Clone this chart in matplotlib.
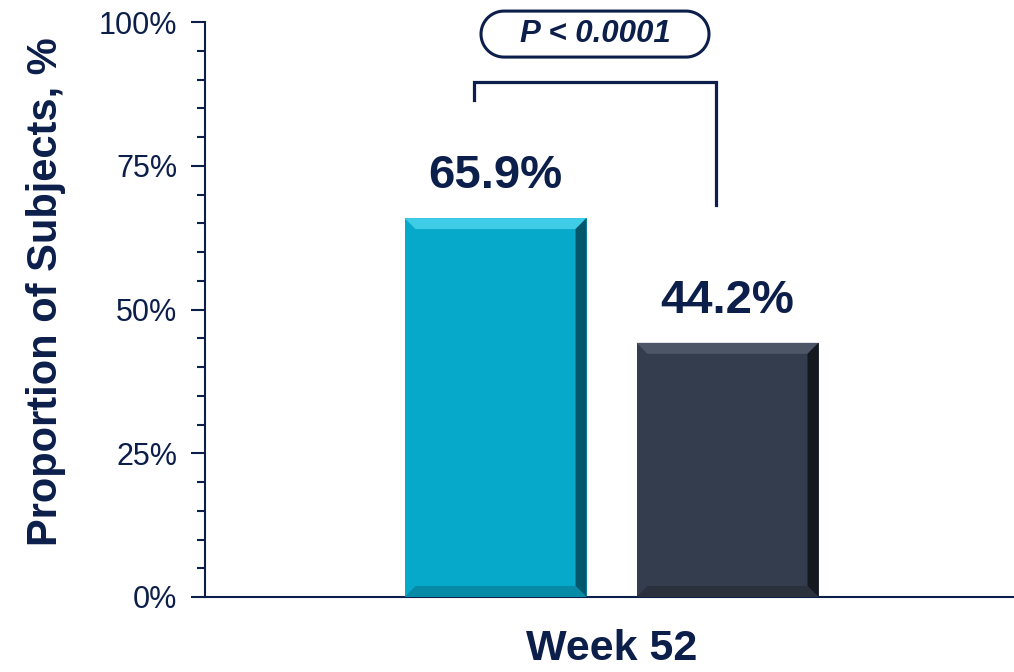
import matplotlib
matplotlib.use("Agg")
import numpy as np
import matplotlib.pyplot as plt
from matplotlib.patches import Polygon, PathPatch
from matplotlib.path import Path
from matplotlib.ticker import MultipleLocator, FixedLocator
from matplotlib.transforms import IdentityTransform

# ---- data ----
categories = ["Treatment", "Control"]
values = [65.9, 44.2]
value_labels = ["65.9%", "44.2%"]
group_label = "Week 52"
y_ticks = [0, 25, 50, 75, 100]
y_tick_labels = ["0%", "25%", "50%", "75%", "100%"]
p_text = "P < 0.0001"
y_label = "Proportion of Subjects, %"

# ---- style ----
NAVY = "#0c1e4a"
bar_colors = ["#07a9cb", "#343d4e"]
bevel_light = ["#3fcce6", "#4d5667"]
bevel_dark = ["#04566a", "#14181f"]
bevel_bottom = ["#068aa5", "#2a303c"]

plt.rcParams['font.family'] = ['Liberation Sans', 'DejaVu Sans']

fig = plt.figure(figsize=(10.14, 6.72), dpi=100)
ax = fig.add_axes([205/1014, 1-597/672, 1-205/1014, (597-22)/672])

x_pos = [-0.5, 0.5]
width = 182/232
bars = ax.bar(x_pos, values, width=width, color=bar_colors, edgecolor="none", zorder=2)

ax.set_xlim((205-611.5)/232, (1014-611.5)/232)
ax.set_ylim(0, 100)

# bevel effect (pixel-sized, converted to data units)
bev_px = 11
dx = bev_px / 232 * 1.0
dy = bev_px / 575 * 100
for i, b in enumerate(bars):
    x0 = b.get_x(); x1 = x0 + b.get_width(); h = b.get_height()
    top = Polygon([[x0, h], [x1, h], [x1-dx, h-dy], [x0+dx, h-dy]], closed=True,
                  facecolor=bevel_light[i], edgecolor="none", zorder=3)
    right = Polygon([[x1, h], [x1, 0], [x1-dx, dy], [x1-dx, h-dy]], closed=True,
                    facecolor=bevel_dark[i], edgecolor="none", zorder=3)
    bottom = Polygon([[x0, 0], [x1, 0], [x1-dx, dy], [x0+dx, dy]], closed=True,
                     facecolor=bevel_bottom[i], edgecolor="none", zorder=3)
    ax.add_patch(top); ax.add_patch(right); ax.add_patch(bottom)
    ax.text(b.get_x()+b.get_width()/2, h + 3.5, value_labels[i], ha="center", va="bottom",
            fontsize=34, fontweight="bold", color=NAVY)

# axes styling
for s in ["top", "right"]:
    ax.spines[s].set_visible(False)
ax.spines["left"].set_color(NAVY)
ax.spines["bottom"].set_color(NAVY)
ax.spines["left"].set_linewidth(1.5)
ax.spines["bottom"].set_linewidth(1.5)
ax.yaxis.set_major_locator(FixedLocator(y_ticks))
ax.set_yticklabels(y_tick_labels)
ax.yaxis.set_minor_locator(MultipleLocator(5))
ax.tick_params(axis="y", which="major", direction="out", length=10, width=1.5, color=NAVY,
               labelsize=22, labelcolor=NAVY, pad=10)
ax.tick_params(axis="y", which="minor", direction="out", length=6, width=1.5, color=NAVY)
ax.set_xticks([])

# significance bracket
bx0, bx1 = (474-611.5)/232, (716-611.5)/232
ytop = 89.6
ax.plot([bx0, bx0, bx1, bx1], [86.4, ytop, ytop, 68.2], color=NAVY, lw=2.3,
        solid_joinstyle="miter", clip_on=False, zorder=4)

# p-value pill (drawn in pixel space so the ends stay round)
px, py = (595-611.5)/232, 97.9
fig.canvas.draw()
cx, cy = ax.transData.transform((px, py))
bw, bh = 228, 46
r = bh / 2
t_right = np.linspace(-np.pi/2, np.pi/2, 40)
t_left = np.linspace(np.pi/2, 3*np.pi/2, 40)
xs = np.concatenate([cx + bw/2 - r + r*np.cos(t_right), cx - bw/2 + r + r*np.cos(t_left)])
ys = np.concatenate([cy + r*np.sin(t_right), cy + r*np.sin(t_left)])
verts = np.column_stack([xs, ys])
verts = np.vstack([verts, verts[:1]])
codes = [Path.MOVETO] + [Path.LINETO]*(len(verts)-2) + [Path.CLOSEPOLY]
pill = PathPatch(Path(verts, codes), transform=IdentityTransform(), facecolor="white",
                 edgecolor=NAVY, linewidth=2.2, zorder=5, clip_on=False)
fig.add_artist(pill)
fig.text(cx/1014, cy/672, p_text, ha="center", va="center", fontsize=22.5,
         fontweight="bold", fontstyle="italic", color=NAVY, zorder=6)

fig.text(46/1014, 1-292/672, y_label, rotation=90, ha="center", va="center",
         fontsize=30, fontweight="bold", color=NAVY)
fig.text(612/1014, 1-649/672, group_label, ha="center", va="center",
         fontsize=31, fontweight="bold", color=NAVY)

fig.savefig("out.png", dpi=100)
